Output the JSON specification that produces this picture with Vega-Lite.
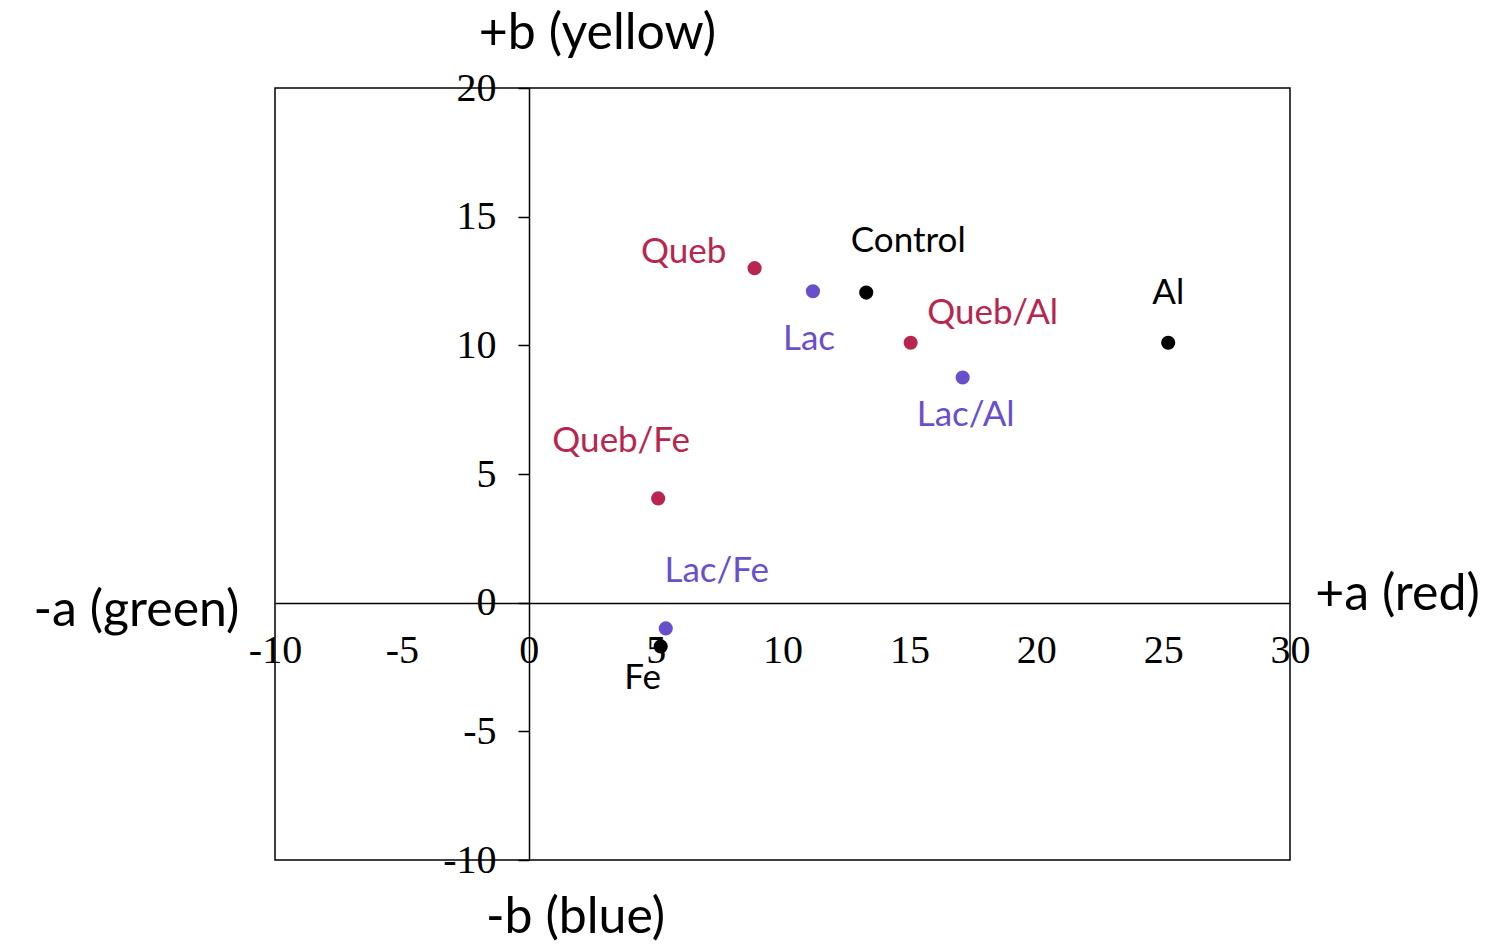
{
  "$schema": "https://vega.github.io/schema/vega-lite/v6.json",
  "autosize": "none",
  "width": 1015,
  "height": 772,
  "padding": {"left": 275, "top": 88, "right": 213, "bottom": 85},
  "background": "white",
  "config": {
    "view": {"stroke": "black", "strokeWidth": 1.5},
    "axis": {"grid": false}
  },
  "data": {
    "values": [
      {"name": "Queb", "group": "Queb", "a": 8.9, "b": 13.0},
      {"name": "Lac", "group": "Lac", "a": 11.2, "b": 12.1},
      {"name": "Control", "group": "Ref", "a": 13.3, "b": 12.05},
      {"name": "Queb/Al", "group": "Queb", "a": 15.05, "b": 10.1},
      {"name": "Lac/Al", "group": "Lac", "a": 17.1, "b": 8.75},
      {"name": "Al", "group": "Ref", "a": 25.2, "b": 10.1},
      {"name": "Queb/Fe", "group": "Queb", "a": 5.1, "b": 4.05},
      {"name": "Lac/Fe", "group": "Lac", "a": 5.4, "b": -1.0},
      {"name": "Fe", "group": "Ref", "a": 5.2, "b": -1.7}
    ]
  },
  "resolve": {
    "scale": {"x": "shared", "y": "shared"},
    "axis": {"x": "independent", "y": "independent"}
  },
  "layer": [
    {
      "mark": {"type": "circle", "size": 200, "opacity": 1},
      "encoding": {
        "x": {
          "field": "a", "type": "quantitative",
          "scale": {"domain": [-10, 30], "nice": false, "zero": false},
          "axis": {
            "orient": "bottom", "offset": -257,
            "values": [-10, -5, 0, 5, 10, 15, 20, 25, 30],
            "labelExpr": "replace(datum.label, '\u2212', '-')",
            "domainColor": "black", "domainWidth": 1.5,
            "ticks": false,
            "labelFont": "Liberation Serif", "labelFontSize": 40, "labelColor": "black",
            "labelPadding": 27, "labelFlush": false, "labelOverlap": false, "labelBound": false,
            "title": "-a (green)", "titleFont": "Lato", "titleFontSize": 50, "titleFontWeight": "normal",
            "titleColor": "black", "titleX": -139, "titleY": 7,
            "titleAlign": "center", "titleBaseline": "middle", "titleAngle": 0
          }
        },
        "y": {
          "field": "b", "type": "quantitative",
          "scale": {"domain": [-10, 20], "nice": false, "zero": false},
          "axis": {
            "orient": "left", "offset": -254,
            "values": [-10, -5, 0, 5, 10, 15, 20],
            "labelExpr": "replace(datum.label, '\u2212', '-')",
            "domainColor": "black", "domainWidth": 1.5,
            "ticks": true, "tickSize": 11, "tickColor": "black", "tickWidth": 1.5,
            "labelFont": "Liberation Serif", "labelFontSize": 40, "labelColor": "black",
            "labelPadding": 22, "labelFlush": false, "labelOverlap": false, "labelBound": false,
            "title": "+b (yellow)", "titleFont": "Lato", "titleFontSize": 50, "titleFontWeight": "normal",
            "titleColor": "black", "titleX": 68, "titleY": -55,
            "titleAlign": "center", "titleBaseline": "middle", "titleAngle": 0
          }
        },
        "color": {
          "field": "group", "type": "nominal",
          "scale": {"domain": ["Queb", "Lac", "Ref"], "range": ["#B8264F", "#6A4FCC", "#000000"]},
          "legend": null
        }
      }
    },
    {
      "transform": [{"filter": "datum.name === 'Queb'"}],
      "mark": {"type": "text", "font": "Lato", "fontSize": 35, "align": "center", "baseline": "middle", "dx": -71, "dy": -16},
      "encoding": {
        "x": {"field": "a", "type": "quantitative", "axis": {
          "orient": "bottom", "offset": -257, "domain": false, "ticks": false, "labels": false,
          "title": "+a (red)", "titleFont": "Lato", "titleFontSize": 50, "titleFontWeight": "normal",
          "titleColor": "black", "titleX": 1122, "titleY": -9,
          "titleAlign": "center", "titleBaseline": "middle", "titleAngle": 0}},
        "y": {"field": "b", "type": "quantitative", "axis": {
          "orient": "left", "offset": -254, "domain": false, "ticks": false, "labels": false,
          "title": "-b (blue)", "titleFont": "Lato", "titleFontSize": 50, "titleFontWeight": "normal",
          "titleColor": "black", "titleX": 46, "titleY": 829,
          "titleAlign": "center", "titleBaseline": "middle", "titleAngle": 0}},
        "color": {"field": "group", "type": "nominal", "legend": null},
        "text": {"field": "name"}
      }
    },
    {
      "transform": [{"filter": "datum.name === 'Lac'"}],
      "mark": {"type": "text", "font": "Lato", "fontSize": 35, "align": "center", "baseline": "middle", "dx": -4, "dy": 48},
      "encoding": {
        "x": {"field": "a", "type": "quantitative", "axis": null},
        "y": {"field": "b", "type": "quantitative", "axis": null},
        "color": {"field": "group", "type": "nominal", "legend": null},
        "text": {"field": "name"}
      }
    },
    {
      "transform": [{"filter": "datum.name === 'Control'"}],
      "mark": {"type": "text", "font": "Lato", "fontSize": 35, "align": "center", "baseline": "middle", "dx": 42, "dy": -52},
      "encoding": {
        "x": {"field": "a", "type": "quantitative", "axis": null},
        "y": {"field": "b", "type": "quantitative", "axis": null},
        "color": {"field": "group", "type": "nominal", "legend": null},
        "text": {"field": "name"}
      }
    },
    {
      "transform": [{"filter": "datum.name === 'Queb/Al'"}],
      "mark": {"type": "text", "font": "Lato", "fontSize": 35, "align": "center", "baseline": "middle", "dx": 82, "dy": -30},
      "encoding": {
        "x": {"field": "a", "type": "quantitative", "axis": null},
        "y": {"field": "b", "type": "quantitative", "axis": null},
        "color": {"field": "group", "type": "nominal", "legend": null},
        "text": {"field": "name"}
      }
    },
    {
      "transform": [{"filter": "datum.name === 'Lac/Al'"}],
      "mark": {"type": "text", "font": "Lato", "fontSize": 35, "align": "center", "baseline": "middle", "dx": 3, "dy": 37},
      "encoding": {
        "x": {"field": "a", "type": "quantitative", "axis": null},
        "y": {"field": "b", "type": "quantitative", "axis": null},
        "color": {"field": "group", "type": "nominal", "legend": null},
        "text": {"field": "name"}
      }
    },
    {
      "transform": [{"filter": "datum.name === 'Al'"}],
      "mark": {"type": "text", "font": "Lato", "fontSize": 35, "align": "center", "baseline": "middle", "dx": 0, "dy": -50},
      "encoding": {
        "x": {"field": "a", "type": "quantitative", "axis": null},
        "y": {"field": "b", "type": "quantitative", "axis": null},
        "color": {"field": "group", "type": "nominal", "legend": null},
        "text": {"field": "name"}
      }
    },
    {
      "transform": [{"filter": "datum.name === 'Queb/Fe'"}],
      "mark": {"type": "text", "font": "Lato", "fontSize": 35, "align": "center", "baseline": "middle", "dx": -37, "dy": -57},
      "encoding": {
        "x": {"field": "a", "type": "quantitative", "axis": null},
        "y": {"field": "b", "type": "quantitative", "axis": null},
        "color": {"field": "group", "type": "nominal", "legend": null},
        "text": {"field": "name"}
      }
    },
    {
      "transform": [{"filter": "datum.name === 'Lac/Fe'"}],
      "mark": {"type": "text", "font": "Lato", "fontSize": 35, "align": "center", "baseline": "middle", "dx": 51, "dy": -57},
      "encoding": {
        "x": {"field": "a", "type": "quantitative", "axis": null},
        "y": {"field": "b", "type": "quantitative", "axis": null},
        "color": {"field": "group", "type": "nominal", "legend": null},
        "text": {"field": "name"}
      }
    },
    {
      "transform": [{"filter": "datum.name === 'Fe'"}],
      "mark": {"type": "text", "font": "Lato", "fontSize": 35, "align": "center", "baseline": "middle", "dx": -18, "dy": 32},
      "encoding": {
        "x": {"field": "a", "type": "quantitative", "axis": null},
        "y": {"field": "b", "type": "quantitative", "axis": null},
        "color": {"field": "group", "type": "nominal", "legend": null},
        "text": {"field": "name"}
      }
    }
  ]
}
